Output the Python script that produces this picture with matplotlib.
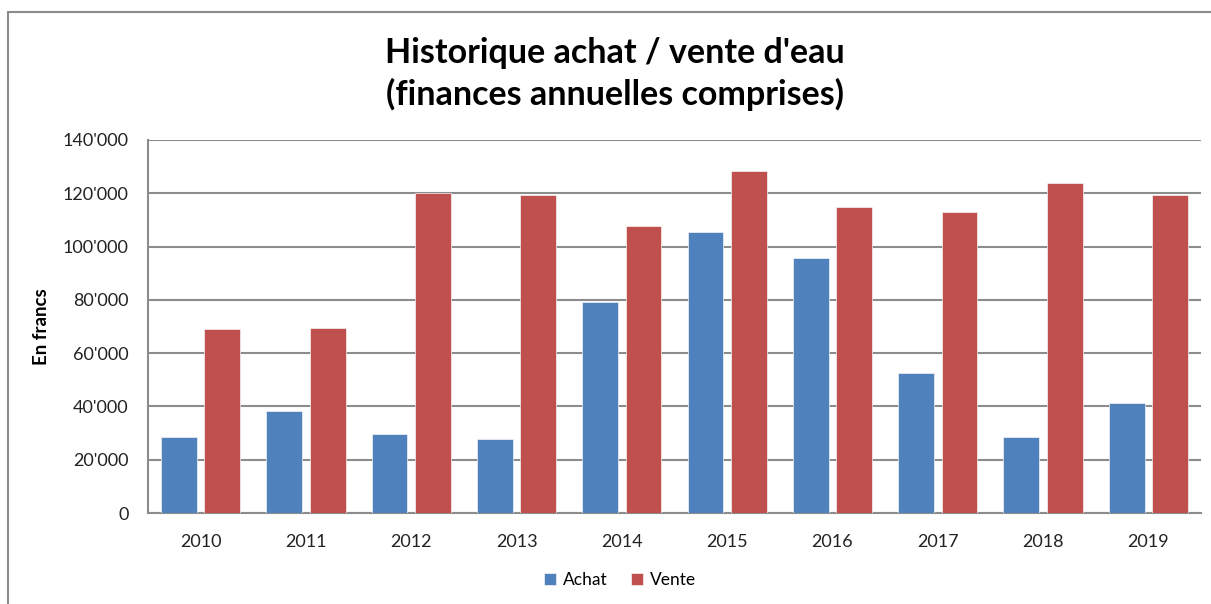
import matplotlib.pyplot as plt
import numpy as np
from matplotlib.patches import Rectangle
from matplotlib.ticker import FuncFormatter

years = ['2010', '2011', '2012', '2013', '2014', '2015', '2016', '2017', '2018', '2019']
achat = [28500, 38300, 29700, 27800, 79200, 105500, 95800, 52600, 28500, 41300]
vente = [69100, 69400, 120200, 119400, 107800, 128400, 114900, 113100, 123900, 119400]

plt.rcParams['font.family'] = ['Lato', 'DejaVu Sans']

fig = plt.figure(figsize=(12.11, 6.04), dpi=100)
ax = fig.add_axes([148 / 1211, 1 - 513 / 604, (1201 - 148) / 1211, (513 - 140) / 604])

# outer chart frame (Excel style, cut off at right/bottom)
fig.patches.append(Rectangle((8 / 1211, -0.1), 1.2, 1 - 12 / 604 + 0.1,
                             transform=fig.transFigure, fill=False,
                             edgecolor='#8c8c8c', linewidth=1.5))

x = np.arange(len(years))
w = 0.34
ax.bar(x - 0.206, achat, w, color='#4F81BD', edgecolor='#f4f4f4', linewidth=0.5, label='Achat', zorder=3)
ax.bar(x + 0.206, vente, w, color='#C0504D', edgecolor='#f4f4f4', linewidth=0.5, label='Vente', zorder=3)

ax.set_xlim(-0.5, len(years) - 0.5)
ax.set_ylim(0, 140000)
ax.set_yticks(np.arange(0, 140001, 20000))
ax.yaxis.set_major_formatter(FuncFormatter(lambda v, p: '0' if v == 0 else "{:,}".format(int(v)).replace(',', "'")))
ax.set_xticks(x)
ax.set_xticklabels(years)
ax.tick_params(axis='both', length=0, labelsize=13, colors='#222222')
ax.tick_params(axis='x', pad=15)
ax.tick_params(axis='y', pad=14)
ax.grid(axis='y', color='#8c8c8c', linewidth=1.5, zorder=0)
for s in ['top', 'right']:
    ax.spines[s].set_visible(False)
for s in ['left', 'bottom']:
    ax.spines[s].set_color('#8c8c8c')
    ax.spines[s].set_linewidth(1.5)

ax.set_ylabel('En francs', fontsize=13.5, fontweight='bold', labelpad=9)

fig.text(615 / 1211, 1 - 74 / 604, "Historique achat / vente d'eau\n(finances annuelles comprises)",
         ha='center', va='center', fontsize=24.5, fontweight='bold', linespacing=1.3)

ax.legend(loc='center', bbox_to_anchor=(620 / 1211, 1 - 580 / 604), bbox_transform=fig.transFigure,
          ncol=2, frameon=False, fontsize=12.5, handlelength=0.65, handleheight=0.65,
          handletextpad=0.4, columnspacing=1.4)

fig.savefig('out.png', dpi=100)
